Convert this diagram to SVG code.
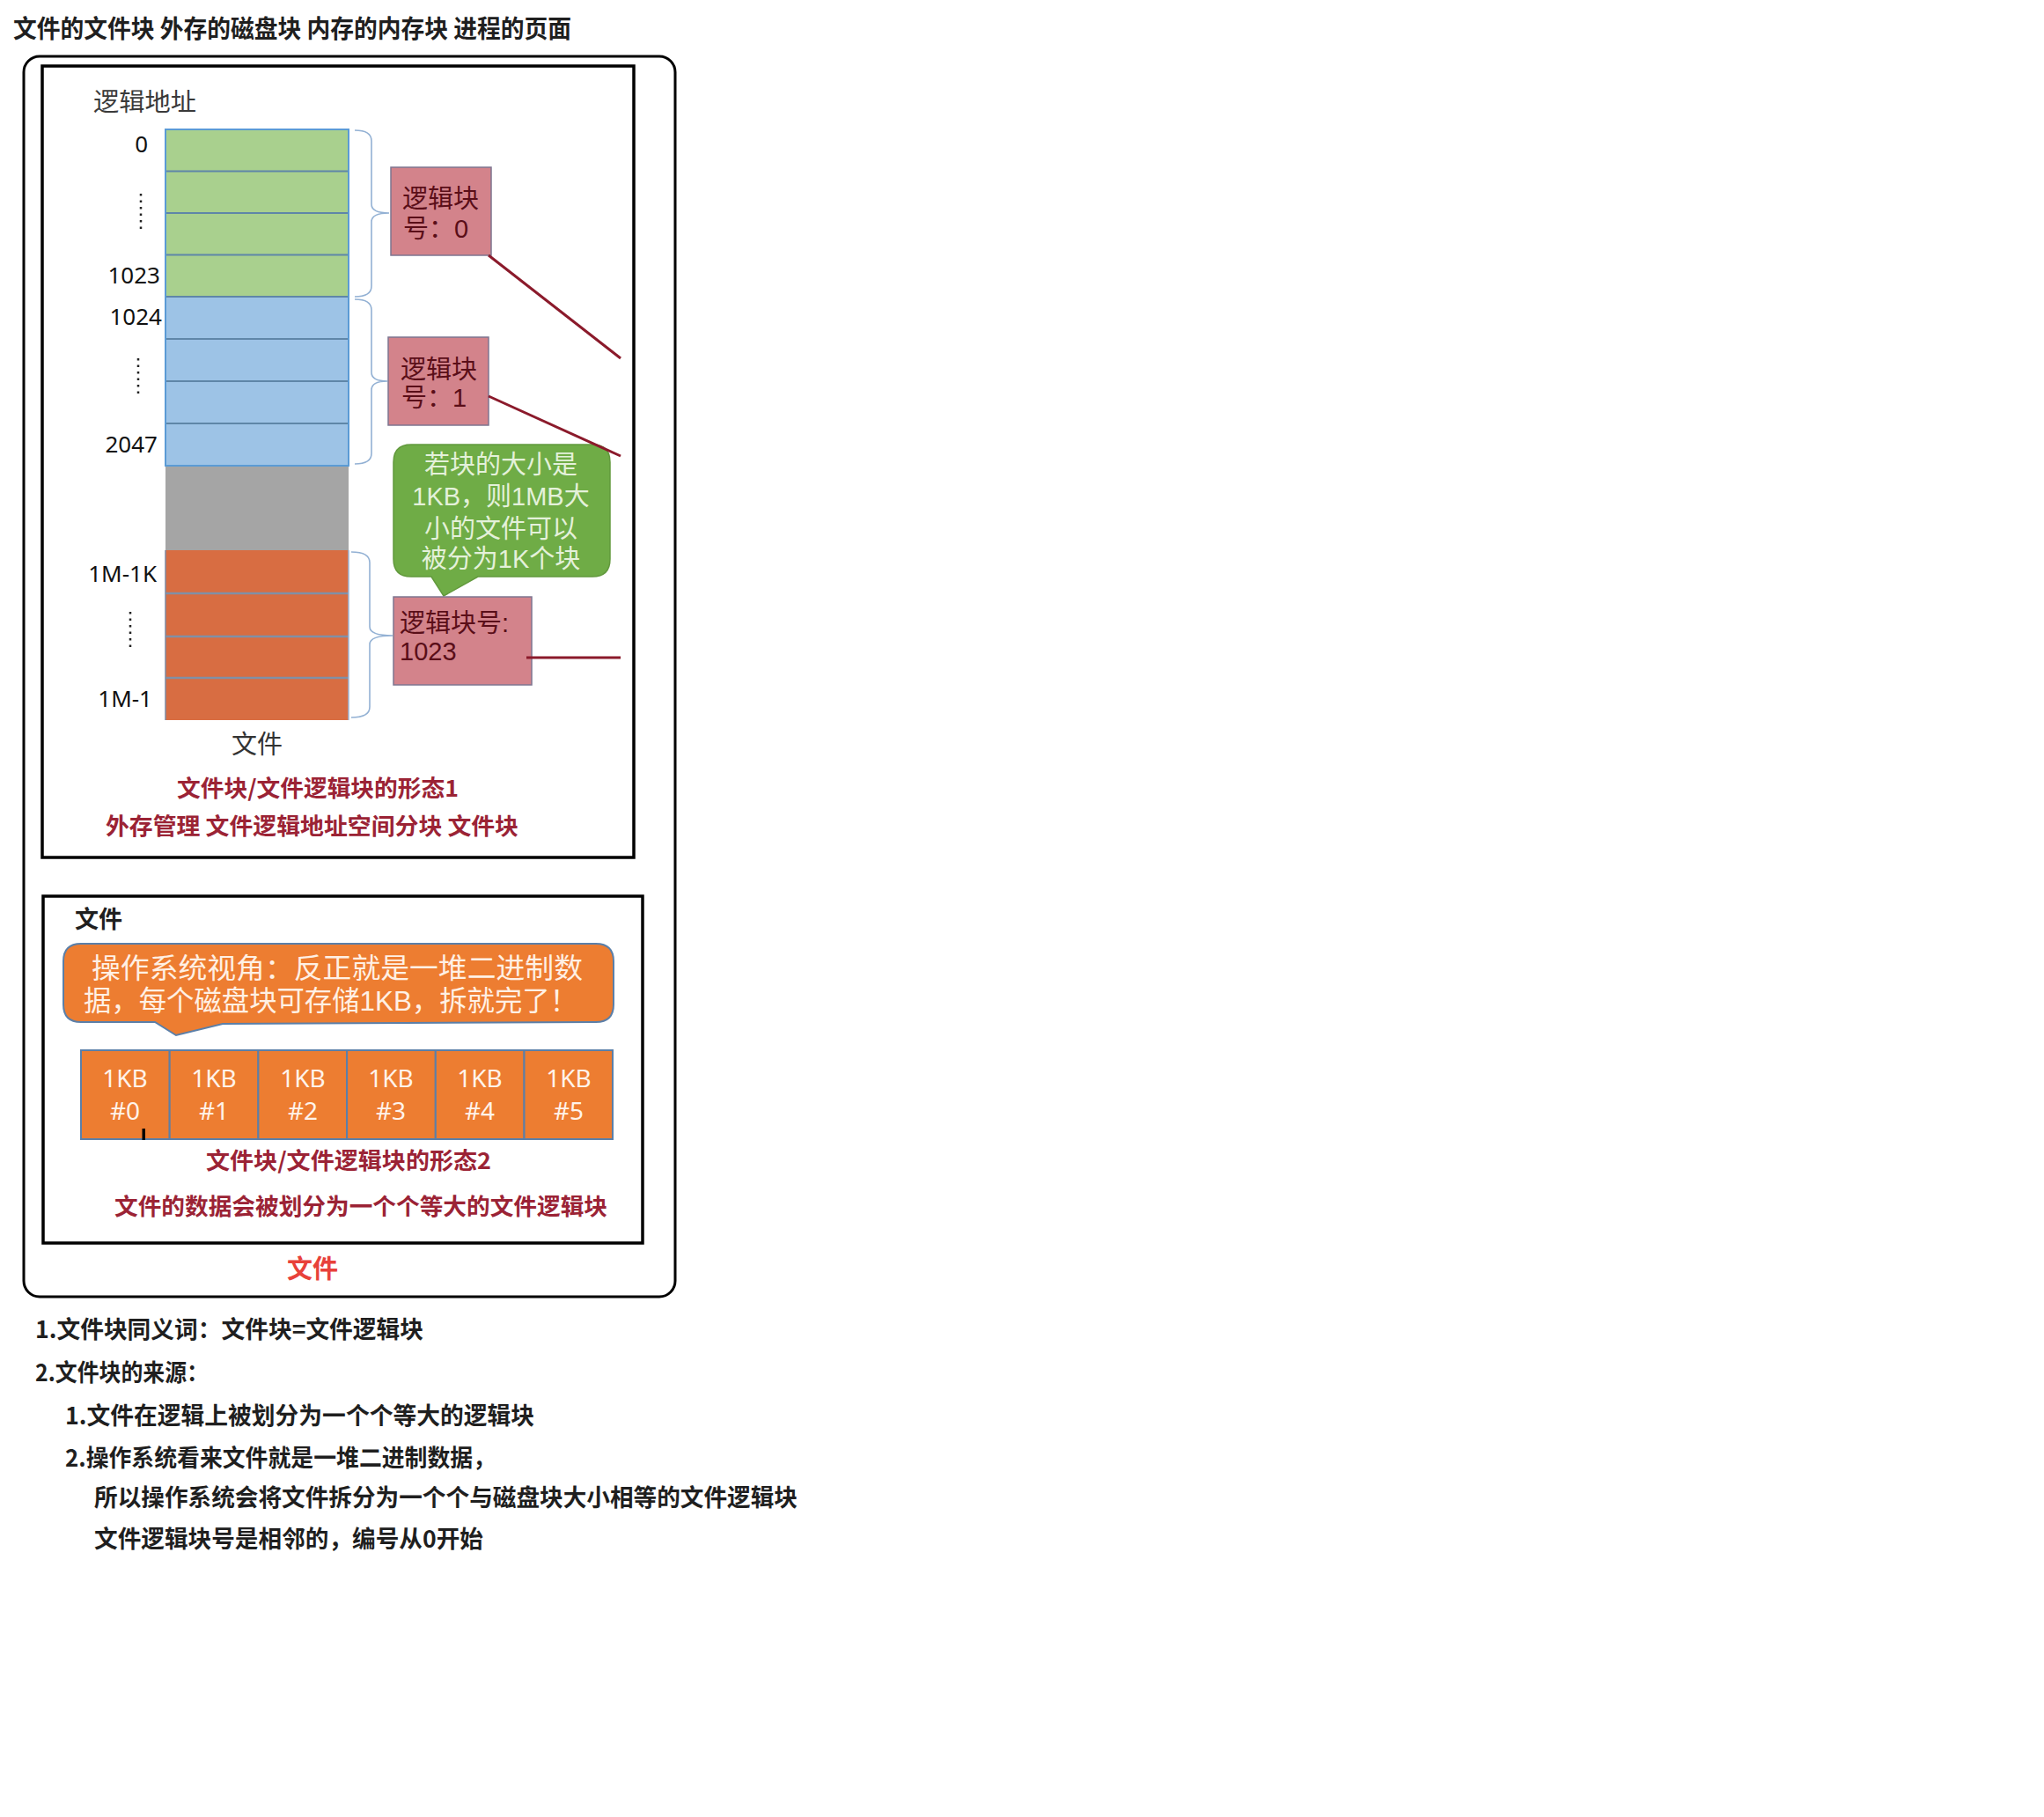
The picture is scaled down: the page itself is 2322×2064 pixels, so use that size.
<svg xmlns="http://www.w3.org/2000/svg" width="2322" height="2064" viewBox="0 0 2322 2064">
<style>
.cjk{font-family:"Noto Sans CJK SC","Noto Sans",sans-serif}
.lat{font-family:"Liberation Sans","Noto Sans CJK SC",sans-serif}
.num{font-family:"Noto Sans","Noto Sans CJK SC",sans-serif}
.bold{font-weight:bold}
.blk{fill:#1f1f1f}
.gray{fill:#3a3a3a}
.dred{fill:#9B2335}
.box{fill:none;stroke:#000;stroke-width:3.5}
.redbox{fill:#D3838B;stroke:#7E7590;stroke-width:1.5}
.redtxt{fill:#5A0E18}
.brace{fill:none;stroke:#93B1D4;stroke-width:1.6}
.sep{stroke:#5F86A8;stroke-width:2}
.dots{stroke:#222;stroke-width:2.5;stroke-dasharray:2.5 5}
.conn{stroke:#8B1A2B;stroke-width:3;fill:none}
.cell{fill:#ED7D31;stroke:#5B7FA8;stroke-width:2}
.celltxt{fill:#FFF3EA;font-size:28px;text-anchor:middle}
.gtxt{fill:#E4F1DA;font-size:29px;text-anchor:middle}
</style>

<rect width="2322" height="2064" fill="#fff"/>

<g id="title">
<text class="cjk bold blk" x="15" y="43" font-size="28" textLength="634" lengthAdjust="spacingAndGlyphs">文件的文件块 外存的磁盘块 内存的内存块 进程的页面</text>
</g>

<g id="outer-frame">
<rect x="27" y="64" width="740" height="1409" rx="18" ry="18" fill="none" stroke="#000" stroke-width="3"/>
</g>

<g id="form1-panel">
<rect class="box" x="48" y="75" width="672" height="899"/>
<text class="cjk gray" x="106" y="126" font-size="28" textLength="117" lengthAdjust="spacingAndGlyphs">逻辑地址</text>

<g id="file-column">
<rect x="188" y="147" width="208" height="190" fill="#A9D08E"/>
<rect x="188" y="337" width="208" height="192" fill="#9DC3E6"/>
<rect x="188" y="529" width="208" height="96" fill="#A5A5A5"/>
<rect x="188" y="625" width="208" height="193" fill="#D86D42"/>
<line class="sep" x1="188" y1="194.5" x2="396" y2="194.5"/>
<line class="sep" x1="188" y1="242" x2="396" y2="242"/>
<line class="sep" x1="188" y1="289.5" x2="396" y2="289.5"/>
<line class="sep" x1="188" y1="337" x2="396" y2="337"/>
<line class="sep" x1="188" y1="385" x2="396" y2="385"/>
<line class="sep" x1="188" y1="433" x2="396" y2="433"/>
<line class="sep" x1="188" y1="481" x2="396" y2="481"/>
<line x1="188" y1="674" x2="396" y2="674" stroke="#8190A6" stroke-width="2.5"/>
<line x1="188" y1="723" x2="396" y2="723" stroke="#8190A6" stroke-width="2.5"/>
<line x1="188" y1="770" x2="396" y2="770" stroke="#8190A6" stroke-width="2.5"/>
<rect x="188" y="147" width="208" height="382" fill="none" stroke="#5B9BD5" stroke-width="2"/>
<line x1="188" y1="625" x2="188" y2="818" stroke="#7E8AA0" stroke-width="1.5"/>
<line x1="396" y1="625" x2="396" y2="818" stroke="#9DB6D6" stroke-width="1.5"/>
<text class="cjk" x="292" y="856" font-size="29" fill="#333" text-anchor="middle">文件</text>
</g>

<g id="addr-labels">
<text class="num" x="168" y="173" font-size="26" fill="#111" text-anchor="end">0</text>
<line class="dots" x1="160" y1="220" x2="160" y2="262"/>
<text class="num" x="182" y="322" font-size="26" fill="#111" text-anchor="end">1023</text>
<text class="num" x="184" y="369" font-size="26" fill="#111" text-anchor="end">1024</text>
<line class="dots" x1="157" y1="407" x2="157" y2="447"/>
<text class="num" x="179" y="514" font-size="26" fill="#111" text-anchor="end">2047</text>
<text class="num" x="178" y="661" font-size="26" fill="#111" text-anchor="end">1M-1K</text>
<line class="dots" x1="148" y1="695" x2="148" y2="735"/>
<text class="num" x="173" y="803" font-size="26" fill="#111" text-anchor="end">1M-1</text>
</g>

<g id="braces">
<path class="brace" d="M403 148 Q422 148 422 160 L422 232 Q422 242 442 242 Q422 242 422 252 L422 325 Q422 337 403 337"/>
<path class="brace" d="M403 340 Q422 340 422 352 L422 423 Q422 433 440 433 Q422 433 422 443 L422 515 Q422 527 403 527"/>
<path class="brace" d="M399 627 Q420 627 420 639 L420 712 Q420 722 446 722 Q420 722 420 732 L420 803 Q420 815 399 815"/>
</g>

<g id="block0">
<rect class="redbox" x="444" y="190" width="114" height="100"/>
<text class="lat redtxt" x="457" y="236" font-size="29">逻辑块</text>
<text class="lat redtxt" x="458" y="270" font-size="29">号：<tspan x="516">0</tspan></text>
</g>

<g id="block1">
<rect class="redbox" x="441" y="383" width="114" height="100"/>
<text class="lat redtxt" x="455" y="430" font-size="29">逻辑块</text>
<text class="lat redtxt" x="456" y="462" font-size="29">号：<tspan x="514">1</tspan></text>
</g>

<g id="callout-green">
<path d="M467 505 L673 505 Q693 505 693 525 L693 635 Q693 655 673 655 L543 655 L504 677 L490 655 L467 655 Q447 655 447 635 L447 525 Q447 505 467 505 Z" fill="#6FAC46" stroke="#62993D" stroke-width="1.5"/>
<text class="lat gtxt" x="569" y="538">若块的大小是</text>
<text class="lat gtxt" x="569" y="574">1KB，则1MB大</text>
<text class="lat gtxt" x="569" y="611">小的文件可以</text>
<text class="lat gtxt" x="569" y="645">被分为1K个块</text>
</g>

<g id="block1023">
<rect class="redbox" x="447" y="678" width="157" height="100"/>
<text class="lat redtxt" x="454" y="718" font-size="29">逻辑块号:</text>
<text class="lat redtxt" x="454" y="750" font-size="29">1023</text>
</g>

<text class="cjk bold dred" x="201" y="905" font-size="26" textLength="320" lengthAdjust="spacingAndGlyphs">文件块/文件逻辑块的形态1</text>
<text class="cjk bold dred" x="120" y="948" font-size="26" textLength="469" lengthAdjust="spacingAndGlyphs">外存管理 文件逻辑地址空间分块 文件块</text>
</g>

<g id="connectors">
<line class="conn" x1="555" y1="290" x2="705" y2="407"/>
<line class="conn" x1="555" y1="450" x2="705" y2="518"/>
<line class="conn" x1="598" y1="747" x2="705" y2="747"/>
</g>

<g id="form2-panel">
<rect class="box" x="49" y="1018" width="681" height="394"/>
<text class="cjk bold blk" x="85" y="1054" font-size="27">文件</text>

<g id="callout-orange">
<path d="M92 1072 L677 1072 Q697 1072 697 1092 L697 1141 Q697 1161 677 1161 L253 1163 L200 1176 L176 1161 L92 1161 Q72 1161 72 1141 L72 1092 Q72 1072 92 1072 Z" fill="#ED7D31" stroke="#5B7FA8" stroke-width="2"/>
<text class="lat" x="104" y="1111" font-size="32" fill="#FFF0E4" textLength="558" lengthAdjust="spacingAndGlyphs">操作系统视角：反正就是一堆二进制数</text>
<text class="lat" x="95" y="1148" font-size="32" fill="#FFF0E4" textLength="561" lengthAdjust="spacingAndGlyphs">据，每个磁盘块可存储1KB，拆就完了！</text>
</g>

<g id="cells">
<rect class="cell" x="92" y="1193" width="100.7" height="101"/>
<rect class="cell" x="192.7" y="1193" width="100.7" height="101"/>
<rect class="cell" x="293.4" y="1193" width="100.7" height="101"/>
<rect class="cell" x="394.1" y="1193" width="100.7" height="101"/>
<rect class="cell" x="494.8" y="1193" width="100.7" height="101"/>
<rect class="cell" x="595.5" y="1193" width="100.5" height="101"/>
<text class="num celltxt" x="142" y="1235">1KB</text>
<text class="num celltxt" x="142" y="1272">#0</text>
<text class="num celltxt" x="243" y="1235">1KB</text>
<text class="num celltxt" x="243" y="1272">#1</text>
<text class="num celltxt" x="344" y="1235">1KB</text>
<text class="num celltxt" x="344" y="1272">#2</text>
<text class="num celltxt" x="444" y="1235">1KB</text>
<text class="num celltxt" x="444" y="1272">#3</text>
<text class="num celltxt" x="545" y="1235">1KB</text>
<text class="num celltxt" x="545" y="1272">#4</text>
<text class="num celltxt" x="646" y="1235">1KB</text>
<text class="num celltxt" x="646" y="1272">#5</text>
<rect x="161.5" y="1282" width="3.5" height="13" fill="#000"/>
</g>

<text class="cjk bold dred" x="234" y="1328" font-size="26" textLength="324" lengthAdjust="spacingAndGlyphs">文件块/文件逻辑块的形态2</text>
<text class="cjk bold dred" x="130" y="1380" font-size="26" textLength="560" lengthAdjust="spacingAndGlyphs">文件的数据会被划分为一个个等大的文件逻辑块</text>
</g>

<text class="cjk bold" x="355" y="1452" font-size="29" fill="#E8413A" text-anchor="middle">文件</text>

<g id="notes">
<text class="cjk bold blk" x="40" y="1520" font-size="27" textLength="441" lengthAdjust="spacingAndGlyphs">1.文件块同义词：文件块=文件逻辑块</text>
<text class="cjk bold blk" x="40" y="1569" font-size="27" textLength="197" lengthAdjust="spacingAndGlyphs">2.文件块的来源：</text>
<text class="cjk bold blk" x="74" y="1618" font-size="27" textLength="533" lengthAdjust="spacingAndGlyphs">1.文件在逻辑上被划分为一个个等大的逻辑块</text>
<text class="cjk bold blk" x="74" y="1666" font-size="27" textLength="489" lengthAdjust="spacingAndGlyphs">2.操作系统看来文件就是一堆二进制数据，</text>
<text class="cjk bold blk" x="107" y="1711" font-size="27" textLength="799" lengthAdjust="spacingAndGlyphs">所以操作系统会将文件拆分为一个个与磁盘块大小相等的文件逻辑块</text>
<text class="cjk bold blk" x="107" y="1758" font-size="27" textLength="442" lengthAdjust="spacingAndGlyphs">文件逻辑块号是相邻的，编号从0开始</text>
</g>
</svg>
